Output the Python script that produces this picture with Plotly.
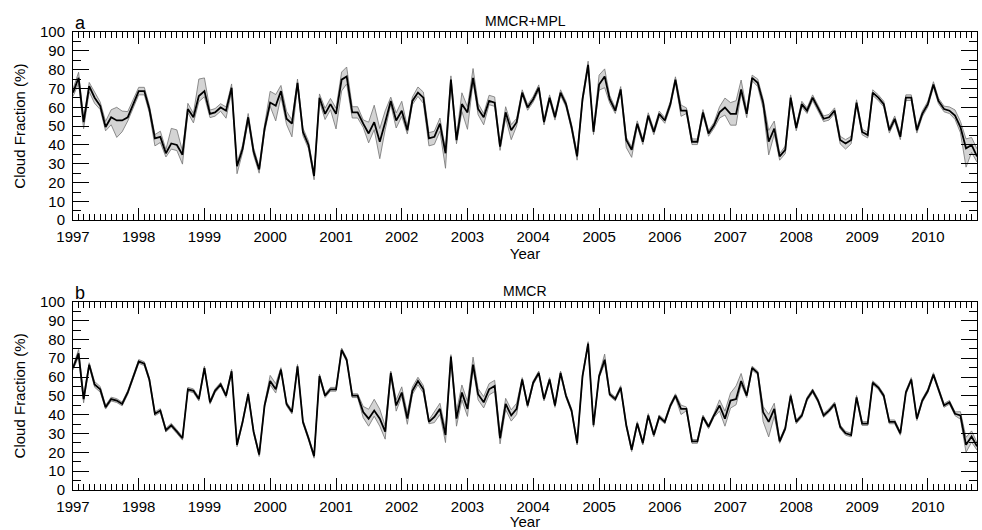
import pandas as pd
import plotly.graph_objects as go

# ---------------- data (monthly, Jan 1997 - Oct 2010) ----------------
start_month = "1997-01-01"
n_months = 166

mmcr_mpl = [
    67.8, 75.6, 52.1, 71.2, 65.1, 60.8, 49.5, 54.7, 53.0, 53.0, 54.7, 61.7,
    68.6, 68.6, 59.1, 43.5, 44.3, 35.6, 40.8, 40.0, 34.8, 59.1, 54.7, 66.0,
    68.6, 56.5, 57.3, 59.9, 58.2, 70.4, 28.7, 38.0, 54.7, 36.5, 27.0, 48.7,
    62.5, 60.8, 68.6, 53.9, 51.3, 73.0, 47.0, 40.0, 23.5, 65.1, 56.5, 61.7,
    56.5, 74.7, 76.4, 57.3, 57.3, 51.3, 46.1, 52.1, 41.7, 52.1, 63.4, 53.0,
    58.2, 47.8, 63.4, 67.8, 65.1, 43.5, 44.3, 51.3, 35.6, 74.7, 42.6, 61.7,
    57.3, 75.6, 59.1, 54.7, 63.4, 62.5, 39.1, 57.3, 47.8, 52.1, 67.8, 59.9,
    64.3, 70.4, 52.1, 65.1, 54.7, 67.8, 61.7, 49.5, 33.9, 64.3, 82.5, 47.0,
    72.1, 76.4, 64.3, 58.2, 69.5, 42.6, 37.4, 51.3, 41.7, 55.6, 46.9, 56.5,
    53.0, 61.7, 74.7, 58.2, 58.2, 41.7, 41.7, 57.3, 46.1, 50.4, 57.3, 59.9,
    56.5, 56.5, 69.5, 56.5, 75.6, 73.0, 62.5, 41.7, 48.7, 33.9, 37.4, 65.1,
    49.0, 61.7, 58.2, 65.1, 59.9, 53.9, 54.7, 58.2, 42.6, 40.8, 42.6, 62.5,
    46.9, 45.2, 67.8, 65.1, 61.7, 47.8, 53.9, 44.3, 65.1, 65.1, 47.8, 56.5,
    61.7, 72.1, 63.4, 59.1, 58.2, 55.6, 49.5, 38.2, 40.0, 33.9,
]
mmcr_mpl_hi = [
    2, 3, 2, 2, 3, 2, 3, 4, 7, 5, 3, 2,
    2, 2, 2, 2, 3, 2, 8, 8, 2, 3, 2, 9,
    7, 2, 2, 2, 2, 2, 1.5, 2, 2, 2, 1.5, 2,
    6, 6, 3, 4, 2, 2, 2, 2, 1.5, 2, 3, 3,
    3, 4, 5, 3, 3, 2, 6, 9, 7, 6, 2, 4,
    5, 2, 2, 3, 3, 3, 3, 3, 2, 2, 2, 6,
    3, 5, 3, 2, 3, 3, 1.5, 3, 3, 2, 1.5, 1.5,
    1.5, 1.5, 1.5, 1.5, 1.5, 1.5, 1.5, 1.5, 2, 1.5, 2, 1.5,
    5, 4, 2, 1.5, 1.5, 1.5, 1.5, 1.5, 1.5, 1.5, 1.5, 1.5,
    1.5, 1.5, 1.5, 3, 1.5, 1.5, 1.5, 1.5, 1.5, 1.5, 3, 5,
    6, 7, 5, 2, 1.5, 2, 2, 6, 4, 1.5, 2, 1.5,
    1.5, 1.5, 1.5, 1.5, 1.5, 1.5, 1.5, 1.5, 2, 2, 2, 1.5,
    1.5, 1.5, 1.5, 1.5, 1.5, 1.5, 1.5, 1.5, 1.5, 1.5, 1.5, 1.5,
    1.5, 1.5, 1.5, 1.5, 2, 3, 3, 5, 4, 4,
]
mmcr_mpl_lo = [
    2, 3, 3.5, 3, 3, 2, 2, 4, 9, 6, 2, 2,
    2, 2, 2, 4, 3, 2, 3, 3, 5, 2, 3, 3,
    3, 2, 2, 2, 4, 2, 4, 2, 2, 2, 2, 2,
    2, 8, 3, 3, 7, 2, 2, 2, 2, 2, 3, 3,
    8, 6, 4, 3, 3, 2, 5, 4, 9, 4, 2, 4,
    3, 2, 2, 2, 3, 4, 4, 4, 8, 2, 2, 4,
    9, 2, 3, 4, 2, 2, 2, 3, 5, 2, 1.5, 1.5,
    1.5, 1.5, 1.5, 1.5, 1.5, 1.5, 1.5, 1.5, 2, 1.5, 2, 1.5,
    3, 6, 2, 1.5, 1.5, 4, 4, 1.5, 1.5, 1.5, 1.5, 1.5,
    1.5, 1.5, 1.5, 3, 1.5, 1.5, 1.5, 1.5, 1.5, 1.5, 3, 4,
    6, 6, 2, 2, 1.5, 2, 3, 7, 3, 2, 2, 1.5,
    1.5, 1.5, 1.5, 1.5, 1.5, 1.5, 1.5, 1.5, 2, 3, 2, 1.5,
    1.5, 1.5, 1.5, 1.5, 1.5, 1.5, 1.5, 1.5, 1.5, 1.5, 1.5, 1.5,
    1.5, 1.5, 1.5, 1.5, 1.5, 2, 3, 10, 4, 3,
]

mmcr = [
    64.8, 72.6, 48.3, 66.6, 56.1, 53.5, 44.0, 48.3, 47.5, 45.7, 51.8, 60.5,
    68.3, 67.1, 58.7, 40.5, 42.2, 31.8, 34.4, 31.0, 27.5, 53.5, 52.7, 48.3,
    64.8, 46.6, 52.7, 56.1, 50.1, 63.1, 24.0, 36.2, 50.9, 31.0, 18.8, 44.9,
    57.9, 53.5, 64.0, 45.7, 41.4, 65.7, 36.2, 27.5, 17.9, 60.5, 50.1, 53.5,
    53.5, 74.4, 69.2, 50.1, 50.1, 41.4, 37.9, 42.2, 37.9, 31.0, 62.2, 44.9,
    51.8, 37.9, 52.7, 57.9, 53.5, 36.2, 38.8, 43.1, 29.2, 70.9, 37.9, 51.8,
    43.1, 66.6, 50.9, 46.6, 53.5, 55.3, 27.5, 45.7, 39.6, 43.1, 58.7, 44.9,
    57.0, 62.2, 48.3, 58.7, 44.9, 62.2, 50.1, 42.2, 24.9, 60.5, 77.8, 34.4,
    60.5, 69.2, 50.9, 48.3, 54.4, 34.4, 21.4, 35.3, 24.9, 39.6, 29.2, 38.8,
    36.2, 44.9, 50.1, 43.1, 43.1, 25.8, 25.8, 38.8, 33.6, 39.6, 44.9, 37.9,
    47.5, 48.3, 57.9, 50.1, 64.8, 62.2, 41.4, 36.2, 43.1, 25.8, 32.7, 50.1,
    36.2, 39.6, 48.3, 52.7, 47.5, 39.6, 42.2, 45.7, 33.6, 30.1, 29.2, 49.2,
    35.3, 35.3, 57.0, 54.4, 50.1, 36.2, 36.2, 30.1, 51.8, 58.7, 37.9, 47.5,
    52.7, 61.3, 53.5, 44.9, 46.6, 40.5, 39.6, 24.0, 28.4, 23.2,
]
mmcr_hi = [
    1, 2, 2, 1, 1.5, 1.5, 1, 1, 1, 1, 1, 1,
    1, 1, 1, 1, 1, 1, 1, 1, 1, 1, 1, 1,
    1, 1, 1, 1, 1, 1, 1, 1, 1, 1, 1, 1,
    3, 3, 1, 1, 1, 1, 1, 1, 1, 1, 1, 1,
    1, 1, 1, 1, 1, 3, 5, 6, 5, 3, 1, 3,
    3, 3, 2, 2, 2, 1, 3, 3, 3, 1, 4, 4,
    4, 4, 3, 3, 3, 3, 2, 3, 3, 3, 1, 1,
    1, 1, 1, 1, 1, 1, 1, 1, 1, 1, 1, 1,
    1, 3, 1, 1, 1, 1, 1, 1, 1, 1, 1, 1,
    1, 1, 1, 2, 1, 1, 1, 1, 1, 1, 3, 4,
    4, 7, 4, 1, 1, 1, 3, 4, 3, 1, 1, 1,
    1, 1, 1, 1, 1, 1, 1, 1, 1, 1, 1, 1,
    1, 1, 1, 1, 1, 1, 1, 1, 1, 1, 1, 1,
    1, 1, 1, 1, 1, 1, 2, 4, 3, 2,
]
mmcr_lo = [
    1, 2, 2, 1, 1.5, 1.5, 1, 1, 1, 1, 1, 1,
    1, 1, 1, 1, 1, 1, 1, 1, 1, 1, 1, 1,
    1, 1, 1, 1, 1, 1, 1, 1, 1, 1, 1, 1,
    2, 2, 1, 1, 1, 1, 1, 1, 1, 1, 1, 1,
    1, 1, 1, 1, 1, 3, 4, 3, 4, 4, 1, 3,
    2, 3, 2, 2, 2, 1, 3, 3, 4, 1, 4, 4,
    4, 2, 3, 3, 3, 3, 3, 3, 3, 3, 1, 1,
    1, 1, 1, 1, 1, 1, 1, 1, 1, 1, 1, 1,
    1, 2, 1, 1, 1, 1, 1, 1, 1, 1, 1, 1,
    1, 1, 1, 3, 1, 1, 1, 1, 1, 1, 3, 4,
    4, 3, 2, 1, 1, 1, 5, 8, 4, 1, 1, 1,
    1, 1, 1, 1, 1, 1, 1, 1, 1, 1, 1, 1,
    1, 1, 1, 1, 1, 1, 1, 1, 1, 1, 1, 1,
    1, 1, 1, 1, 1, 1, 2, 4, 3, 2,
]

panel_titles = ["MMCR+MPL", "MMCR"]
panel_letters = ["a", "b"]
y_label = "Cloud Fraction (%)"
x_label = "Year"

# ---------------- figure ----------------
dates = pd.date_range(start_month, periods=n_months, freq="MS")
FONT = "Liberation Sans, Arial, Helvetica, sans-serif"

fig = go.Figure()

series = [
    (mmcr_mpl, mmcr_mpl_hi, mmcr_mpl_lo, "x", "y"),
    (mmcr, mmcr_hi, mmcr_lo, "x2", "y2"),
]
for vals, hi, lo, xa, ya in series:
    upper = [v + h for v, h in zip(vals, hi)]
    lower = [v - l for v, l in zip(vals, lo)]
    fig.add_trace(go.Scatter(x=dates, y=upper, mode="lines",
                             line=dict(color="rgb(115,115,115)", width=0.8),
                             xaxis=xa, yaxis=ya, showlegend=False, hoverinfo="skip"))
    fig.add_trace(go.Scatter(x=dates, y=lower, mode="lines", fill="tonexty",
                             fillcolor="rgb(212,212,212)",
                             line=dict(color="rgb(115,115,115)", width=0.8),
                             xaxis=xa, yaxis=ya, showlegend=False, hoverinfo="skip"))
    fig.add_trace(go.Scatter(x=dates, y=vals, mode="lines",
                             line=dict(color="black", width=1.8),
                             xaxis=xa, yaxis=ya, showlegend=False))

xcommon = dict(
    type="date",
    range=["1997-01-01", "2010-10-01"],
    tick0="1997-01-01", dtick="M12", tickformat="%Y",
    ticks="inside", ticklen=12, tickwidth=1, tickcolor="black",
    minor=dict(dtick="M1", ticks="inside", ticklen=6, tickwidth=1, tickcolor="black"),
    showline=True, linecolor="black", linewidth=1, mirror="ticks",
    showgrid=False, zeroline=False,
    ticklabelstandoff=3,
    tickfont=dict(family=FONT, size=15, color="black"),
    title=dict(text=x_label, font=dict(family=FONT, size=15, color="black"), standoff=0),
)
ycommon = dict(
    range=[0, 100], dtick=10, tick0=0,
    ticks="inside", ticklen=16, tickwidth=1, tickcolor="black",
    minor=dict(dtick=5, ticks="inside", ticklen=8, tickwidth=1, tickcolor="black"),
    showline=True, linecolor="black", linewidth=1, mirror="ticks",
    showgrid=False, zeroline=False,
    ticklabelstandoff=4,
    tickfont=dict(family=FONT, size=15, color="black"),
    title=dict(text=y_label, font=dict(family=FONT, size=15, color="black"), standoff=10),
)

fig.update_layout(
    width=982, height=530,
    margin=dict(l=73, r=4, t=32, b=31),
    paper_bgcolor="white", plot_bgcolor="white",
    font=dict(family=FONT, color="black"),
    xaxis=dict(xcommon, domain=[0, 1], anchor="y"),
    yaxis=dict(ycommon, domain=[0.589, 1.0], anchor="x"),
    xaxis2=dict(xcommon, domain=[0, 1], anchor="y2"),
    yaxis2=dict(ycommon, domain=[0.0, 0.411], anchor="x2"),
)

for i, (ttl, let) in enumerate(zip(panel_titles, panel_letters)):
    yref = "y domain" if i == 0 else "y2 domain"
    xref = "x domain" if i == 0 else "x2 domain"
    fig.add_annotation(text=ttl, xref=xref, yref=yref, x=0.5, y=1.0,
                       xanchor="center", yanchor="bottom", showarrow=False, yshift=1,
                       font=dict(family=FONT, size=14, color="black"))
    fig.add_annotation(text=let, xref=xref, yref=yref, x=0.0, y=1.0,
                       xanchor="left", yanchor="bottom", showarrow=False, xshift=0, yshift=-3,
                       font=dict(family=FONT, size=18, color="black"))

fig.write_html("out.html")
